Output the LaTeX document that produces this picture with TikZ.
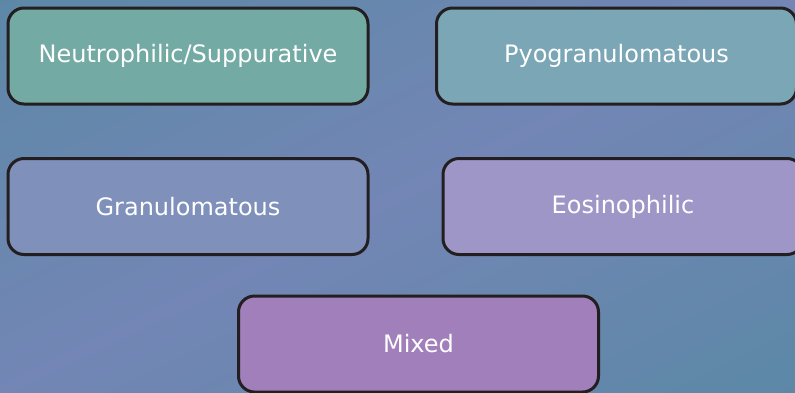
\documentclass[tikz,border=0pt]{standalone}
\usepackage{fontspec}
\setmainfont{DejaVu Sans}
\definecolor{bgteal}{HTML}{5C88A6}
\definecolor{bgmid}{HTML}{7386B5}
\definecolor{cA}{HTML}{74AAA4}
\definecolor{cB}{HTML}{7AA6B6}
\definecolor{cC}{HTML}{7F90BB}
\definecolor{cD}{HTML}{9E96C6}
\definecolor{cE}{HTML}{A07FBA}
\definecolor{edge}{HTML}{231F20}
\begin{document}
\begin{tikzpicture}[x=1pt,y=-1pt,
  catbox/.style={draw=edge, line width=3pt, rounded corners=16pt, minimum width=360pt, minimum height=96pt, text=white, font=\fontsize{24}{28}\selectfont, inner sep=0pt}]
\path[use as bounding box] (0,0) rectangle (795,392);
\begin{scope}
\clip (0,0) rectangle (795,392);
\foreach \i in {0,...,99}{
  \pgfmathsetmacro{\ca}{\i/100}
  \pgfmathsetmacro{\cb}{(\i+1.4)/100}
  \pgfmathsetmacro{\mx}{100*(1-abs(2*(\i+0.5)/100-1))}
  \fill[bgmid!\mx!bgteal] (-50,{784*\ca+24.65}) -- (850,{784*\ca-419.1}) -- (850,{784*\cb-419.1}) -- (-50,{784*\cb+24.65}) -- cycle;
}
\node[catbox, fill=cA] (neut) at (188,56) {Neutrophilic/Suppurative};
\node[catbox, fill=cB] (pyo) at (616.5,56) {Pyogranulomatous};
\node[catbox, fill=cC] (gran) at (188,206.5) {Granulomatous};
\node[catbox, fill=cD] (eos) at (623,206.5) {Eosinophilic};
\node[catbox, fill=cE] (mixed) at (418.5,344) {Mixed};
\end{scope}
\end{tikzpicture}
\end{document}
